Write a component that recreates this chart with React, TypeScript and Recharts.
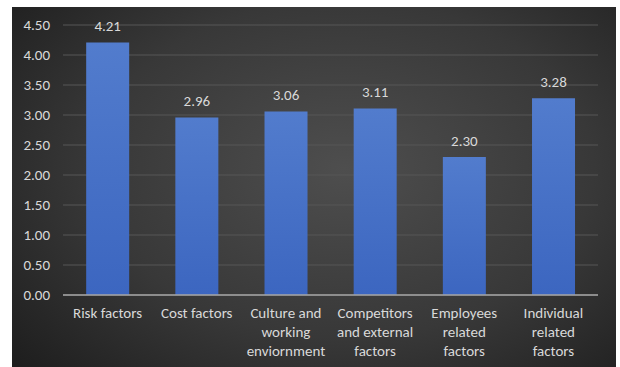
import { BarChart, Bar, XAxis, YAxis, CartesianGrid, LabelList } from 'recharts';

const categories = [
  'Risk factors',
  'Cost factors',
  'Culture and\nworking\nenviornment',
  'Competitors\nand external\nfactors',
  'Employees\nrelated\nfactors',
  'Individual\nrelated\nfactors',
];
const scores = [4.21, 2.96, 3.06, 3.11, 2.3, 3.28];
const yTicks = [0, 0.5, 1, 1.5, 2, 2.5, 3, 3.5, 4, 4.5];

const chartData = categories.map((name, i) => ({ name, score: scores[i] }));

const FONT = 'Carlito, Lato, "Open Sans", sans-serif';
const TEXT = '#d9d9d9';

// x tick: category names carry their own line breaks
const CategoryTick = (props: any) => {
  const { x, y, payload } = props;
  const lines = String(payload.value).split('\n');
  return (
    <text x={x} y={y} textAnchor="middle" fill={TEXT} fontSize={15} fontFamily={FONT}>
      {lines.map((line, i) => (
        <tspan key={i} x={x} dy={i === 0 ? 15 : 19}>
          {line}
        </tspan>
      ))}
    </text>
  );
};

export default function App() {
  return (
    <div
      style={{
        position: 'absolute',
        left: 12,
        top: 7,
        width: 604,
        height: 360,
        background: 'radial-gradient(ellipse 75% 85% at 55% 45%, #4e4e4e 0%, #383838 55%, #1c1c1c 100%)',
      }}
    >
      <BarChart
        width={604}
        height={360}
        data={chartData}
        margin={{ top: 18, right: 18, bottom: 0, left: 0 }}
        barCategoryGap="26%"
      >
        <defs>
          <linearGradient id="barFill" x1="0" y1="0" x2="0" y2="1">
            <stop offset="0%" stopColor="#527ccd" />
            <stop offset="100%" stopColor="#3c66c0" />
          </linearGradient>
        </defs>
        <CartesianGrid vertical={false} stroke="#575757" strokeWidth={1} />
        <XAxis
          dataKey="name"
          height={72}
          tickLine={false}
          axisLine={{ stroke: '#a6a6a6', strokeWidth: 1.5 }}
          interval={0}
          tick={<CategoryTick />}
        />
        <YAxis
          width={51}
          domain={[0, 4.5]}
          ticks={yTicks}
          tickFormatter={(v: number) => v.toFixed(2)}
          axisLine={false}
          tickLine={false}
          tickSize={0}
          tickMargin={13}
          tick={{ fill: TEXT, fontSize: 15, fontFamily: FONT }}
        />
        <Bar dataKey="score" fill="url(#barFill)" isAnimationActive={false}>
          <LabelList
            dataKey="score"
            position="top"
            offset={11}
            formatter={(v: any) => Number(v).toFixed(2)}
            fill={TEXT}
            fontSize={15}
            fontFamily={FONT}
          />
        </Bar>
      </BarChart>
    </div>
  );
}
